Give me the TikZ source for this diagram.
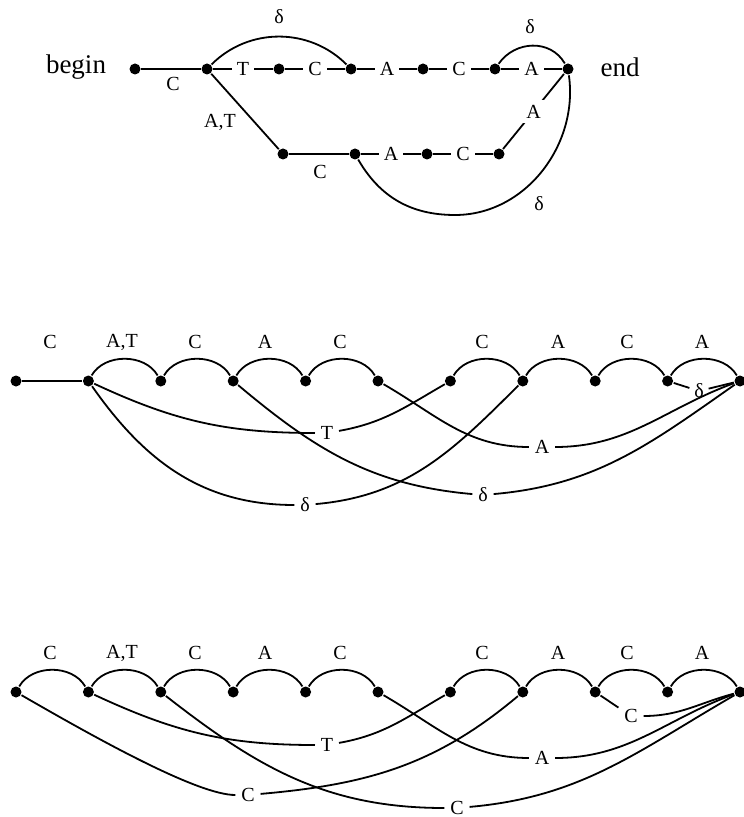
\documentclass[tikz,border=0pt]{standalone}
\usepackage{fontspec}
\setmainfont{Liberation Serif}
\begin{document}
\begin{tikzpicture}[x=0.5pt,y=0.5pt,line width=0.9pt,
  dot/.style={circle,fill=black,inner sep=0pt,minimum size=5.5pt},
  lbl/.style={font=\fontsize{10}{11}\selectfont,inner sep=2.5pt},
  inl/.style={lbl,fill=white},
  bigtxt/.style={font=\fontsize{13.5}{15}\selectfont,inner sep=0pt},
  hump/.style={out=60,in=120}]
\useasboundingbox (0,0) rectangle (743,-817);

% ---------------- top graph ----------------
\node[bigtxt] (begin) at (76,-67) {begin};
\node[bigtxt] (endtxt) at (620,-67) {end};
\node[dot] (b0) at (135,-69) {};
\node[dot] (b1) at (207,-69) {};
\node[dot] (t1) at (279,-69) {};
\node[dot] (t2) at (351,-69) {};
\node[dot] (t3) at (423,-69) {};
\node[dot] (t4) at (495,-69) {};
\node[dot] (e)  at (568,-69) {};
\node[dot] (l1) at (283,-154) {};
\node[dot] (l2) at (355,-154) {};
\node[dot] (l3) at (427,-154) {};
\node[dot] (l4) at (499,-154) {};

\draw (b0) -- (b1);
\node[lbl] (lbC0) at (173,-84) {C};
\draw (b1) -- node[inl] (lbT) {T} (t1);
\draw (t1) -- node[inl] (lbC1) {C} (t2);
\draw (t2) -- node[inl] (lbA1) {A} (t3);
\draw (t3) -- node[inl] (lbC2) {C} (t4);
\draw (t4) -- node[inl] (lbA2) {A} (e);
\draw (b1) to[out=45,in=135] (t2);
\node[lbl] (lbd1) at (279,-17) {δ};
\draw (t4) to[out=55,in=120,looseness=1.1] (e);
\node[lbl] (lbd2) at (530,-27) {δ};
\draw (b1) -- (l1);
\node[lbl] (lbAT) at (220,-122) {A,T};
\draw (l1) -- (l2);
\node[lbl] (lbC3) at (320,-172) {C};
\draw (l2) -- node[inl] (lbA3) {A} (l3);
\draw (l3) -- node[inl] (lbC4) {C} (l4);
\draw (l4) -- node[inl] (lbA4) {A} (e);
\coordinate (bot) at (455,-215);
\draw (l2) to[out=-60,in=180] (bot) to[out=0,in=-82] (e);
\node[lbl] (lbd3) at (539,-204) {δ};

% ---------------- middle graph ----------------
\foreach \i/\x in {0/16,1/88.4,2/160.8,3/233.2,4/305.6,5/378,6/450.4,7/522.8,8/595.2,9/667.6,10/740}
  \node[dot] (m\i) at (\x,-381) {};
\draw (m0) -- (m1);
\foreach \i/\j in {1/2,2/3,3/4,4/5,6/7,7/8,8/9,9/10}
  \draw (m\i) to[hump] (m\j);
\foreach \x/\t [count=\k] in {50/C,122/{A,T},195/C,265/A,340/C,482/C,558/A,627/C,702/A}
  \node[lbl] (mt\k) at (\x,-342) {\t};

\node[lbl] (mT) at (327,-433) {T};
\draw (m1) to[out=-25,in=180] (mT);
\draw (mT) to[out=10,in=-150] (m6);
\node[lbl] (md1) at (305,-505) {δ};
\draw (m1) to[out=-55,in=180] (md1);
\draw (md1) to[out=5,in=-135] (m7);
\node[lbl] (md2) at (483,-495) {δ};
\draw (m3) to[out=-40,in=175] (md2);
\draw (md2) to[out=5,in=-145] (m10);
\node[lbl] (mA) at (542,-447) {A};
\draw (m5) to[out=-30,in=180] (mA);
\draw (mA) to[out=0,in=-160] (m10);
\node[lbl,inner sep=2pt] (md3) at (699,-391) {δ};
\draw (m9) -- (md3);
\draw (md3) -- (m10);

% ---------------- bottom graph ----------------
\foreach \i/\x in {0/16,1/88.4,2/160.8,3/233.2,4/305.6,5/378,6/450.4,7/522.8,8/595.2,9/667.6,10/740}
  \node[dot] (k\i) at (\x,-692) {};
\foreach \i/\j in {0/1,1/2,2/3,3/4,4/5,6/7,7/8,8/9,9/10}
  \draw (k\i) to[hump] (k\j);
\foreach \x/\t [count=\k] in {50/C,122/{A,T},195/C,265/A,340/C,482/C,558/A,627/C,702/A}
  \node[lbl] (kt\k) at (\x,-653) {\t};

\node[lbl] (kT) at (327,-745) {T};
\draw (k1) to[out=-25,in=180] (kT);
\draw (kT) to[out=10,in=-150] (k6);
\node[lbl] (kC1) at (248,-795) {C};
\draw (k0) to[out=-30,in=180,in looseness=0.4] (kC1);
\draw (kC1) to[out=5,in=-140] (k7);
\node[lbl] (kC2) at (457,-808) {C};
\draw (k2) to[out=-38,in=180] (kC2);
\draw (kC2) to[out=5,in=-150] (k10);
\node[lbl] (kA) at (542,-758) {A};
\draw (k5) to[out=-30,in=180] (kA);
\draw (kA) to[out=0,in=-160] (k10);
\node[lbl] (kC3) at (631,-716) {C};
\draw (k8) -- (kC3);
\draw (kC3) to[out=0,in=-165] (k10);
\end{tikzpicture}
\end{document}
